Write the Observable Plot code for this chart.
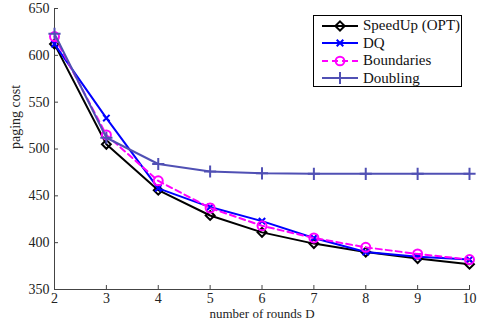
<!DOCTYPE html>
<html><head><meta charset="utf-8">
<script src="https://cdn.jsdelivr.net/npm/d3@7"></script>
<script src="https://cdn.jsdelivr.net/npm/@observablehq/plot@0.6"></script>
<style>
body{margin:0;background:#fff;font-family:"Liberation Serif",serif;}
#wrap{position:relative;width:479px;height:327px;}
#legend{position:absolute;left:313px;top:15px;width:149px;height:72px;border:1px solid #000;background:#fff;box-sizing:border-box;font-size:15px;color:#111;padding-top:1px;}
.row{display:flex;align-items:center;height:17.5px;}
.row svg{margin-left:6px;margin-right:3px;}
</style></head>
<body><div id="wrap"><div id="legend"></div></div>
<script>
const rounds = [2,3,4,5,6,7,8,9,10];
const speedUp = [612,505,456,429,411,399,390,383,377];
const dq = [612,533,458,438,423,405,390,385,382];
const boundaries = [620,515,466,437,418,405,395,388,382];
const doubling = [623,512,484,476,474,473.5,473.5,473.5,473.5];
const yTicks = [350,400,450,500,550,600,650];
const seriesNames = ["SpeedUp (OPT)","DQ","Boundaries","Doubling"];
const xLabel = "number of rounds D";
const yLabel = "paging cost";

const series = [
  {name: seriesNames[0], values: speedUp, color: "#000000", symbol: "diamond2", r: 4, dash: null},
  {name: seriesNames[1], values: dq, color: "#0000ff", symbol: "times", r: 3, dash: null},
  {name: seriesNames[2], values: boundaries, color: "#ff00ff", symbol: "circle", r: 4.5, dash: "6,4"},
  {name: seriesNames[3], values: doubling, color: "#5050b4", symbol: "plus", r: 4, dash: null}
];

const marks = [];
for (const s of series) {
  const data = rounds.map((d, i) => ({x: d, y: s.values[i]}));
  marks.push(Plot.line(data, {x: "x", y: "y", stroke: s.color, strokeWidth: 2, strokeDasharray: s.dash}));
  marks.push(Plot.dot(data, {x: "x", y: "y", stroke: s.color, strokeWidth: 2, symbol: s.symbol, r: s.r}));
}

const chart = Plot.plot({
  width: 479, height: 327,
  marginLeft: 54, marginRight: 10, marginTop: 8, marginBottom: 38,
  style: {fontFamily: "Liberation Serif", fontSize: "14px", color: "#222", background: "#fff"},
  x: {domain: [2,10]},
  y: {domain: [350,650]},
  marks: [
    Plot.frame({anchor: "left", stroke: "#444"}),
    Plot.frame({anchor: "bottom", stroke: "#444"}),
    Plot.axisX(rounds, {tickSize: -4, tickPadding: 8, stroke: "#444", fontSize: 14, label: null}),
    Plot.axisY(yTicks, {tickSize: -4, tickPadding: 9, stroke: "#444", fontSize: 14, label: null}),
    Plot.text([xLabel], {frameAnchor: "bottom", dy: 28, fontSize: 13, fill: "#222", text: d => d}),
    Plot.text([yLabel], {frameAnchor: "left", dx: -39, rotate: -90, fontSize: 14, fill: "#222", text: d => d}),
    ...marks
  ]
});
document.getElementById("wrap").prepend(chart);

const legend = document.getElementById("legend");
const symPath = {
  "diamond2": d3.symbol(d3.symbolDiamond2, 55)(),
  "times": d3.symbol(d3.symbolTimes, 30)(),
  "circle": d3.symbol(d3.symbolCircle, 60)(),
  "plus": d3.symbol(d3.symbolPlus, 50)()
};
for (const s of series) {
  const row = document.createElement("div");
  row.className = "row";
  row.innerHTML = `<svg width="40" height="14"><line x1="2" x2="38" y1="7" y2="7" stroke="${s.color}" stroke-width="2" ${s.dash ? `stroke-dasharray="${s.dash}"` : ""}/><path transform="translate(20,7)" d="${symPath[s.symbol]}" fill="none" stroke="${s.color}" stroke-width="2"/></svg><span>${s.name}</span>`;
  legend.appendChild(row);
}
</script></body></html>
